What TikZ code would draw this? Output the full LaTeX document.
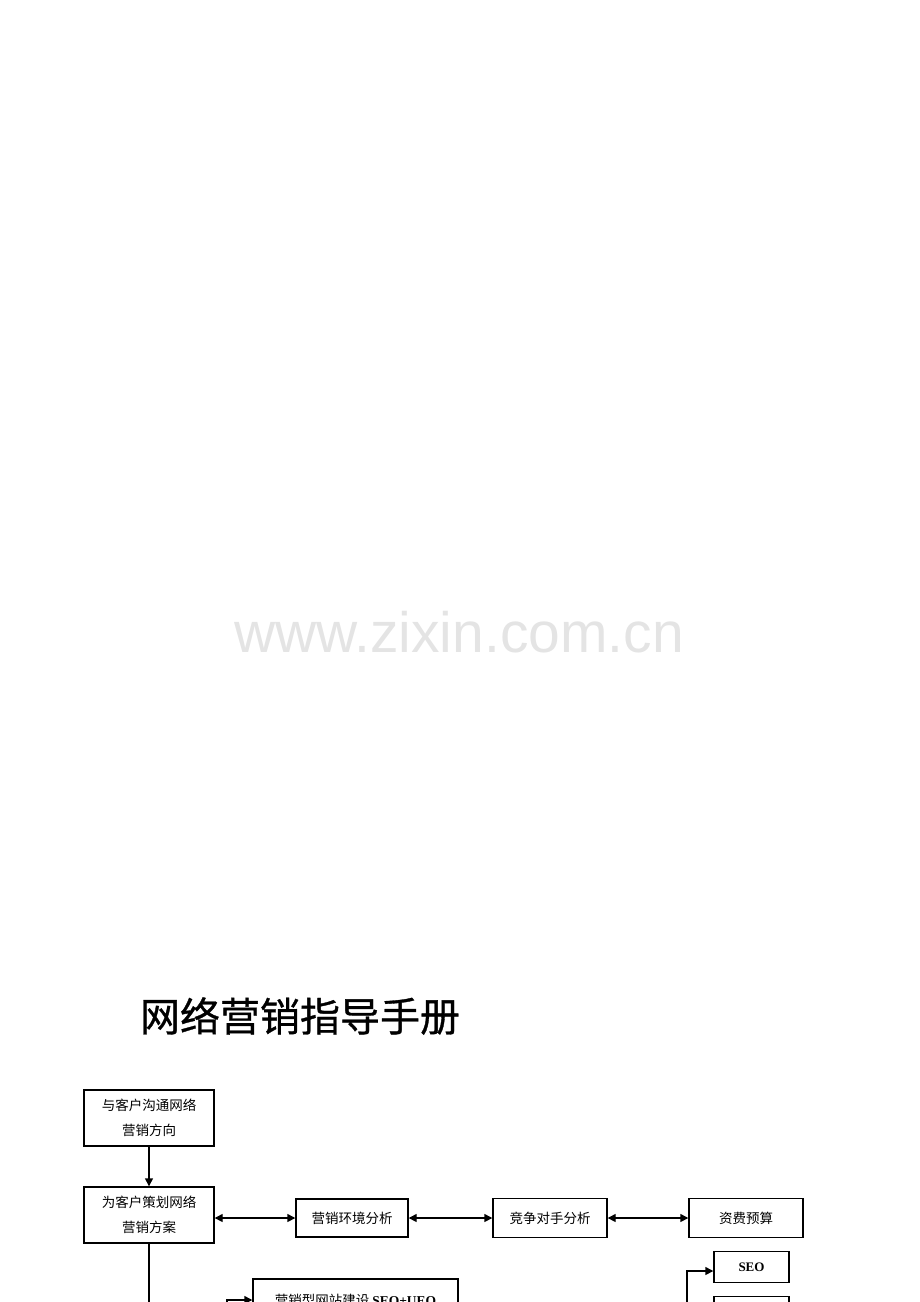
\documentclass[tikz,border=0pt]{standalone}
\usepackage{fontspec}
\setmainfont{Liberation Serif}
\newfontfamily\cjk{Noto Sans CJK SC}
\newfontfamily\cjkhead[FakeBold=0.8]{Noto Sans CJK SC}
\newfontfamily\wmfont{Liberation Sans}
\usetikzlibrary{arrows.meta}
\definecolor{wmgray}{RGB}{228,228,228}

\begin{document}
\begin{tikzpicture}[x=1pt, y=-1pt,
        box/.style={draw, line width=1.4pt, inner sep=0pt, align=center,
            font=\cjk\fontsize{13.5}{25}\selectfont},
        line/.style={line width=1.4pt},
        arr/.style={line, -{Triangle[length=8pt,width=8pt]}},
        dbl/.style={line, {Triangle[length=8pt,width=8pt]}-{Triangle[length=8pt,width=8pt]}}]
            \useasboundingbox (0,0) rectangle (920,1302);
            \clip (0,0) rectangle (920,1302);

            % watermark and title
            \node[text=wmgray, anchor=base, font=\wmfont\fontsize{57}{57}\selectfont] (wm) at (459,652) {www.zixin.com.cn};
            \node[font=\cjkhead\fontsize{40}{40}\selectfont] (title) at (300,1016) {网络营销指导手册};

            % left column
            \node[box, minimum width=130, minimum height=56] (s1) at (149,1118) {与客户沟通网络\\营销方向};
            \node[box, minimum width=130, minimum height=56] (s2) at (149,1215) {为客户策划网络\\营销方案};

            % analysis row
            \node[box, minimum width=112, minimum height=38] (a1) at (352,1218) {营销环境分析};
            \node[box, minimum width=114, minimum height=39] (a2) at (550,1218) {竞争对手分析};
            \node[box, minimum width=114, minimum height=39] (a3) at (746,1218) {资费预算};

            % lower part, running off the page
            \node[box, minimum width=205, minimum height=42] (w1) at (355.5,1300)
                {营销型网站建设 {\normalfont\bfseries SEO+UEO}};
            \node[box, minimum width=75, minimum height=31, font=\bfseries\fontsize{13}{13}\selectfont] (m1) at (751.5,1267) {SEO};
            \node[box, minimum width=75, minimum height=31] (m2) at (751.5,1312) {};

            \coordinate (s3) at (149,1340);
            \coordinate (w0) at (227,1340);
            \coordinate (m0) at (687,1340);

            \draw[arr] (s1) -- (s2);
            \draw[dbl] (s2.east |- a1.west) -- (a1.west);
            \draw[dbl] (a1) -- (a2);
            \draw[dbl] (a2) -- (a3);
            \draw[line] (s2) -- (s3);
            \draw[arr] (w0) |- (w1.west);
            \draw[arr] (m0) |- ([yshift=-4pt]m1.west);
\end{tikzpicture}
\end{document}
